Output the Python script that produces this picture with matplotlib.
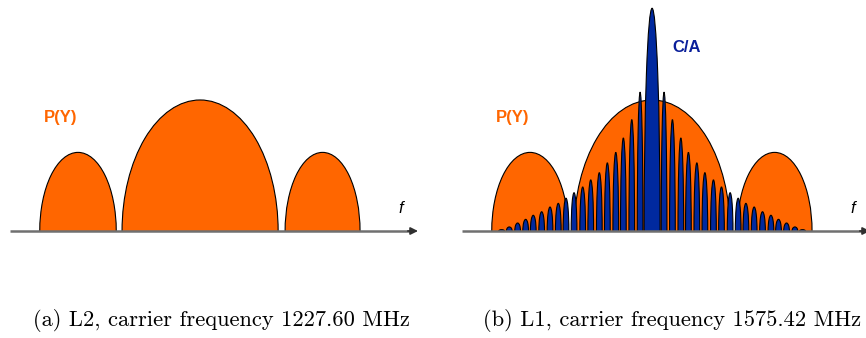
# =========================================
# IMPORT LIBRARY
# =========================================
import matplotlib
matplotlib.use("Agg")
import matplotlib.pyplot as plt
from matplotlib.patches import Ellipse

# =========================================
# DATA (frequency offset in MHz, power relative to P(Y) main lobe)
# =========================================
# P(Y) lobes: left side lobe, main lobe, right side lobe
py_center = [-15.8, 0.0, 15.85]
py_width = [9.9, 20.2, 9.7]
py_height = [0.60, 1.00, 0.60]

# C/A main lobe
ca_main_width = 2.07
ca_main_height = 1.70

# C/A side lobes (one side, inner -> outer), mirrored on the other side
ca_offset = [1.55, 2.63, 3.72, 4.70, 5.79, 6.83, 7.94, 8.98, 10.10,
             11.14, 12.14, 13.21, 14.29, 15.38, 16.36, 17.40, 18.48, 19.47]
ca_height = [1.06, 0.85, 0.71, 0.60, 0.52, 0.445, 0.39, 0.336, 0.292,
             0.25, 0.211, 0.183, 0.147, 0.12, 0.089, 0.061, 0.031, 0.010]
ca_side_width = 0.74

captions = ["(a) L2, carrier frequency 1227.60 MHz",
            "(b) L1, carrier frequency 1575.42 MHz"]

# =========================================
# SETTING
# =========================================
ORANGE = "#ff6600"
BLUE = "#00299f"
NAVY = "#0a1f9a"
AXIS_GRAY = "#707070"

W, H = 866, 338
XLIM = (-24.6, 28.2)
YLIM = (0.0, 1.763)

fig = plt.figure(figsize=(W / 100, H / 100), dpi=100)

ax_bottom = (H - 231) / H
ax_h = 231 / H
ax_w = 408 / W
ax_left = fig.add_axes([10 / W, ax_bottom, ax_w, ax_h])
ax_right = fig.add_axes([462 / W, ax_bottom, ax_w, ax_h])


def lobe(ax, c, w, h, color, z):
    # half ellipse standing on the frequency axis (lower half clipped away)
    e = Ellipse((c, 0.0), w, 2 * h, facecolor=color, edgecolor="black",
                linewidth=0.8, zorder=z)
    ax.add_patch(e)


def draw_axis(ax):
    ax.set_xlim(*XLIM)
    ax.set_ylim(*YLIM)
    ax.axis("off")
    ax.plot([0, 0.985], [0, 0], transform=ax.transAxes, color=AXIS_GRAY,
            linewidth=1.8, clip_on=False, zorder=5, solid_capstyle="butt")
    ax.annotate("", xy=(1.0, 0), xytext=(0.975, 0),
                xycoords="axes fraction", textcoords="axes fraction",
                arrowprops=dict(arrowstyle="-|>", color="#303030", lw=1.2,
                                mutation_scale=11, shrinkA=0, shrinkB=0),
                zorder=6, annotation_clip=False)
    ax.text(26.0, 0.175, "f", fontsize=12, fontstyle="italic",
            family="Liberation Sans", ha="center", va="center")
    ax.text(-18.1, 0.87, "P(Y)", fontsize=12, fontweight="bold",
            family="Liberation Sans", color=ORANGE, ha="center", va="center")


# =========================================
# PANEL (a): L2
# =========================================
for c, w, h in zip(py_center, py_width, py_height):
    lobe(ax_left, c, w, h, ORANGE, 2)
draw_axis(ax_left)

# =========================================
# PANEL (b): L1
# =========================================
for c, w, h in zip(py_center, py_width, py_height):
    lobe(ax_right, c, w, h, ORANGE, 2)

lobe(ax_right, 0.0, ca_main_width, ca_main_height, BLUE, 3)
for off, h in zip(ca_offset, ca_height):
    lobe(ax_right, -off, ca_side_width, h, BLUE, 3)
    lobe(ax_right, off, ca_side_width, h, BLUE, 3)

draw_axis(ax_right)
ax_right.text(4.53, 1.40, "C/A", fontsize=12, fontweight="bold",
              family="Liberation Sans", color=NAVY, ha="center", va="center")

# =========================================
# CAPTIONS
# =========================================
fig.text(221.5 / W, (H - 321) / H, captions[0], fontsize=16.2, family="cmr10",
         ha="center", va="center")
fig.text(672.5 / W, (H - 321) / H, captions[1], fontsize=16.2, family="cmr10",
         ha="center", va="center")

fig.savefig("out.png", dpi=100)
